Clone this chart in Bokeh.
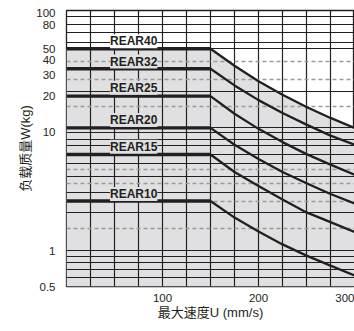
from bokeh.plotting import figure
from bokeh.models import Range1d, FixedTicker, Grid, Label, CustomJSTickFormatter
from bokeh.embed import file_html
from bokeh.resources import INLINE

# ---- data ----
speeds = [0, 150, 175, 200, 225, 250, 275, 300]          # max speed U (mm/s)
rear40 = [50, 50, 36, 26.7, 20.5, 16.2, 13.1, 10.8]      # load W (kg)
rear32 = [34, 34, 24.6, 18.5, 14.4, 11.5, 9.3, 7.8]
rear25 = [20, 20, 14.2, 10.6, 8.2, 6.5, 5.3, 4.35]
rear20 = [10.8, 10.8, 7.8, 5.9, 4.6, 3.7, 3.0, 2.5]
rear15 = [6.45, 6.45, 4.6, 3.5, 2.7, 2.1, 1.74, 1.44]
rear10 = [2.62, 2.62, 1.9, 1.45, 1.13, 0.91, 0.75, 0.62]
series_names = ["REAR40", "REAR32", "REAR25", "REAR20", "REAR15", "REAR10"]
series_vals = [rear40, rear32, rear25, rear20, rear15, rear10]
label_speed = [70, 70, 70, 70, 70, 70]
label_load = [58, 39, 23.5, 12.6, 7.5, 3.0]

y_ticks = [0.5, 1, 10, 20, 30, 40, 50, 80, 100]
x_ticks = [100, 200, 300]
solid_lines = [94, 80, 68, 56, 50, 22, 10.8, 9.8, 8.7, 7.7, 6.45, 5.4, 4.2, 3.1,
               2.1, 1, 0.9, 0.8, 0.7, 0.6]
dashed_lines = [39, 27.6, 16.5, 4.8, 3.7, 2.62, 1.55]
x_grid = [25, 50, 75, 100, 125, 150, 175, 200, 225, 250, 275]

INK = "#231f20"
FILL = "#e0e0e2"
FONT = "Liberation Sans"
TITLE_FONT = "Liberation Sans, Noto Sans CJK SC"

p = figure(width=354, height=331, x_range=Range1d(0, 300), y_range=Range1d(0.5, 105),
           y_axis_type="log", output_backend="svg", toolbar_location=None,
           min_border_left=66, min_border_right=0, min_border_top=10, min_border_bottom=45)
p.background_fill_color = "white"
p.border_fill_color = "white"
p.outline_line_color = INK
p.outline_line_width = 1.3

# shaded region under the largest curve
area = p.varea(x=speeds, y1=[0.5] * len(speeds), y2=rear40, fill_color=FILL)
area.level = "image"

# grids
p.xgrid.ticker = FixedTicker(ticks=x_grid)
p.xgrid.grid_line_color = INK
p.xgrid.grid_line_width = 1.2
p.xgrid.grid_line_alpha = 1
p.ygrid.ticker = FixedTicker(ticks=solid_lines)
p.ygrid.grid_line_color = INK
p.ygrid.grid_line_width = 1.0
p.ygrid.grid_line_alpha = 1
dgrid = Grid(dimension=1, ticker=FixedTicker(ticks=dashed_lines),
             grid_line_color="#9a9a9a", grid_line_width=1.3, grid_line_dash="4 3")
p.add_layout(dgrid)

# series
for vals in series_vals:
    p.line(speeds[:2], vals[:2], line_color=INK, line_width=3.4)
    p.line(speeds[1:], vals[1:], line_color=INK, line_width=2.3)

# series labels
for name, sx, ly in zip(series_names, label_speed, label_load):
    bg = "white" if name == "REAR40" else FILL
    p.add_layout(Label(x=sx, y=ly, text=name, text_align="center", text_baseline="middle",
                       text_font=FONT, text_font_style="bold", text_font_size="12px",
                       text_color=INK, background_fill_color=bg))

# axes
for ax in (p.xaxis[0], p.yaxis[0]):
    ax.axis_line_color = None
    ax.major_tick_line_color = None
    ax.minor_tick_line_color = None
    ax.major_label_text_font = FONT
    ax.major_label_text_font_size = "11.5px"
    ax.major_label_text_color = INK
    ax.axis_label_text_font = TITLE_FONT
    ax.axis_label_text_font_size = "13px"
    ax.axis_label_text_font_style = "normal"
    ax.axis_label_text_color = INK

p.yaxis.ticker = FixedTicker(ticks=y_ticks)
p.yaxis.formatter = CustomJSTickFormatter(code="return tick.toString();")
p.yaxis.major_label_standoff = 5
p.yaxis.axis_label = "负载质量W(kg)"
p.yaxis.axis_label_standoff = 0

p.xaxis.ticker = FixedTicker(ticks=x_ticks)
p.xaxis.major_label_standoff = 1
p.xaxis.axis_label = "最大速度U (mm/s)"
p.xaxis.axis_label_standoff = 0

open("out.html", "w").write(file_html(p, INLINE))
